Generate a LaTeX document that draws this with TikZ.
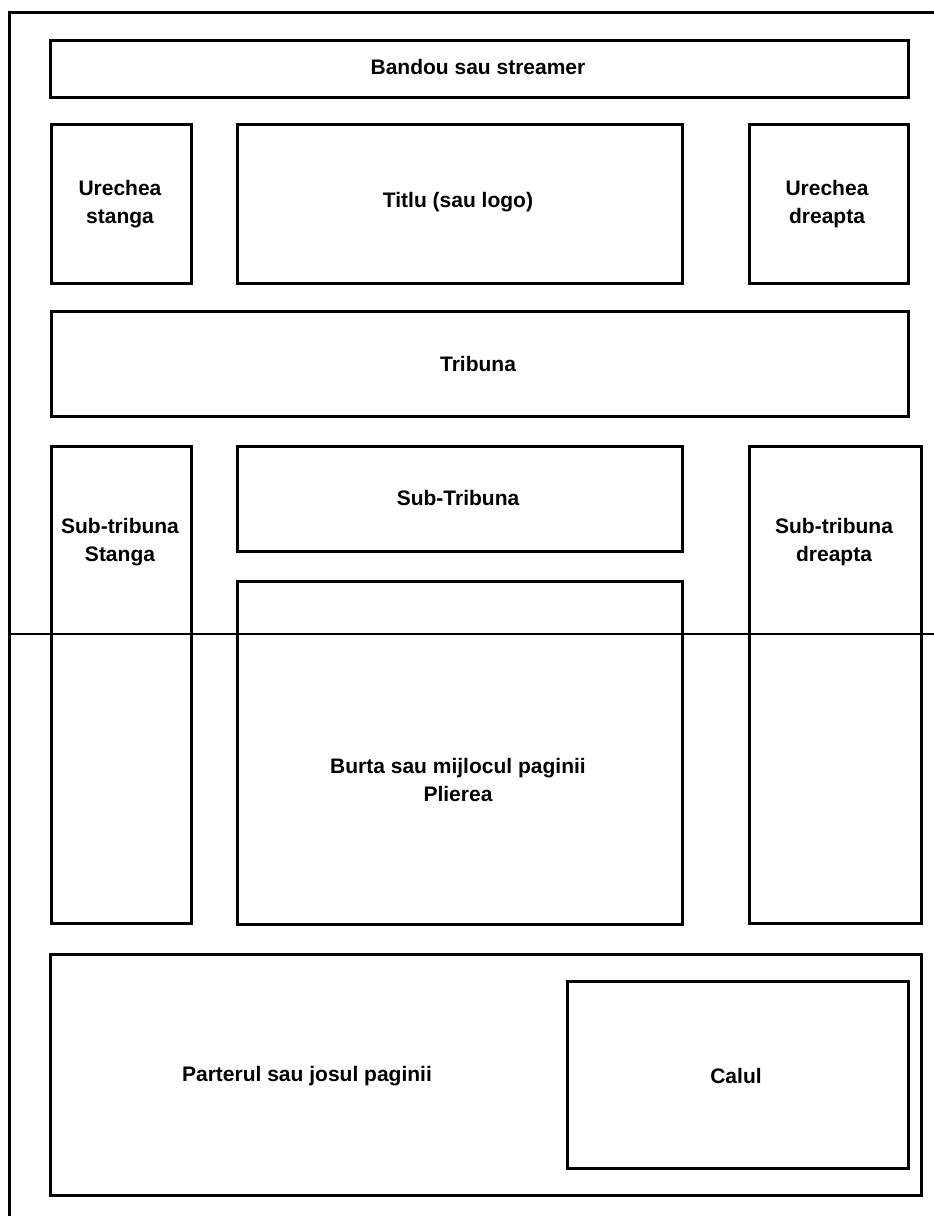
\documentclass[tikz,border=0pt]{standalone}
\usepackage{fontspec}
\setmainfont{Liberation Sans}
\begin{document}
\begin{tikzpicture}[x=1pt,y=-1pt,
  box/.style={draw, line width=3pt, inner sep=0pt, anchor=north west},
  lbl/.style={font=\fontsize{21}{28}\selectfont\bfseries, align=center, inner sep=0pt}]
\useasboundingbox (0,0) rectangle (934,1216);
% outer frame
\coordinate (fb) at (9,1216);
\coordinate (fc) at (9,12);
\coordinate (fr) at (934,12);
\draw[line width=3pt] (fb) -- (fc) -- (fr);
% fold line
\coordinate (fl) at (9,634);
\coordinate (flr) at (934,634);
\draw[line width=1.4pt] (fl) -- (flr);
% boxes
\node[box, minimum width=858, minimum height=57] (bandou) at (49,39) {};
\node[box, minimum width=140, minimum height=159] (ures) at (50,123) {};
\node[box, minimum width=445, minimum height=159] (titlu) at (236,123) {};
\node[box, minimum width=159, minimum height=159] (ured) at (748,123) {};
\node[box, minimum width=857, minimum height=105] (tribuna) at (50,310) {};
\node[box, minimum width=140, minimum height=477] (sts) at (50,445) {};
\node[box, minimum width=445, minimum height=105] (subtr) at (236,445) {};
\node[box, minimum width=172, minimum height=477] (std) at (748,445) {};
\node[box, minimum width=445, minimum height=343] (burta) at (236,580) {};
\node[box, minimum width=871, minimum height=241] (parter) at (49,953) {};
\node[box, minimum width=341, minimum height=187] (calul) at (566,980) {};
% labels
\node[lbl] (tbandou) at (478,67) {Bandou sau streamer};
\node[lbl] (tures) at (120,204) {Urechea\\stanga};
\node[lbl] (ttitlu) at (458,202) {Titlu (sau logo)};
\node[lbl] (tured) at (827,204) {Urechea\\dreapta};
\node[lbl] (ttribuna) at (478,364) {Tribuna};
\node[lbl] (tsubtr) at (458,498) {Sub-Tribuna};
\node[lbl] (tsts) at (120,542) {Sub-tribuna\\Stanga};
\node[lbl] (tstd) at (834,542) {Sub-tribuna\\dreapta};
\node[lbl] (tburta) at (458,780) {Burta sau mijlocul paginii\\Plierea};
\node[lbl] (tparter) at (307,1076) {Parterul sau josul paginii};
\node[lbl] (tcalul) at (736,1076) {Calul};
\end{tikzpicture}
\end{document}
